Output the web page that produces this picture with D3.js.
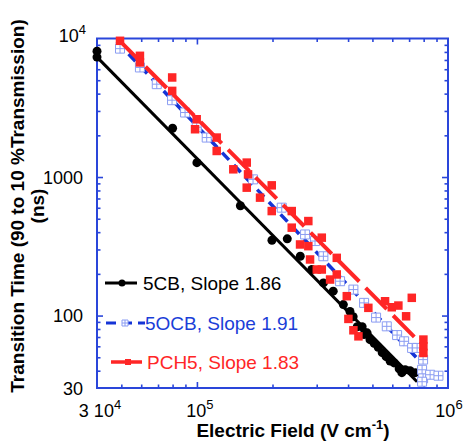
<!DOCTYPE html>
<html>
<head>
<meta charset="utf-8">
<script src="https://cdn.jsdelivr.net/npm/d3@7"></script>
<style>
  body { margin: 0; background: #fff; }
  svg { display: block; }
</style>
</head>
<body>
<div id="chart"></div>
<script>
// axis ranges
const fieldDomain = [4e4, 1e6];
const timeDomain = [30, 1e4];
const fieldMajorTicks = [4e4, 1e5, 1e6];
const fieldTickBase = ["3 10", "10", "10"];
const fieldTickExp = ["4", "5", "6"];
const timeMajorTicks = [30, 100, 1000, 1e4];
const timeTickLabels = ["30", "100", "1000", "10"];

// 5CB
const cbField = [4.0e4, 4.0e4, 8.0e4, 1.0e5, 1.49e5, 1.99e5, 2.29e5, 2.58e5, 2.87e5, 3.19e5,
  3.49e5, 3.83e5, 4.07e5, 4.19e5, 4.35e5, 4.55e5, 4.63e5, 4.76e5, 4.89e5, 5.08e5,
  5.27e5, 5.47e5, 5.67e5, 5.88e5, 6.10e5, 6.39e5, 6.55e5, 6.75e5, 7.06e5, 7.40e5];
const cbTime = [8100, 7340, 2250, 1270, 620, 350, 358, 268, 215, 172,
  150, 120, 107, 98, 83, 83, 73, 75, 67, 63,
  59, 54, 50.5, 47, 45.5, 41.3, 38.7, 40.6, 40, 38.7];
const cbFitField = [4.0e4, 7.53e5];
const cbFitTime = [7340, 33.3];

// 5OCB
const ocbField = [4.94e4, 5.93e4, 6.92e4, 7.96e4, 8.97e4, 9.98e4, 1.094e5, 1.673e5, 2.177e5, 2.696e5,
  2.954e5, 3.189e5, 3.717e5, 4.20e5, 4.632e5, 5.171e5, 5.704e5, 6.27e5, 6.686e5, 7.195e5,
  7.533e5, 7.958e5, 7.885e5, 7.958e5, 8.488e5, 9.162e5, 7.885e5];
const ocbTime = [8450, 6180, 4680, 3586, 2922, 2288, 1927, 962, 601, 385,
  345, 268, 177, 154, 123.5, 96.7, 83.6, 72.3, 65.2, 58.4,
  58.4, 48.1, 40.6, 35.2, 37.4, 36.8, 33.3];
const ocbFitField = [4.8e4, 7.75e5];
const ocbFitTime = [9500, 46.5];

// PCH5
const pchField = [4.94e4, 5.93e4, 5.93e4, 7.97e4, 7.97e4, 9.98e4, 9.83e4, 1.199e5, 1.199e5, 1.396e5,
  1.579e5, 1.598e5, 1.579e5, 1.784e5, 1.986e5, 1.986e5, 2.386e5, 2.386e5, 2.575e5, 2.778e5,
  2.778e5, 2.822e5, 3.143e5, 3.143e5, 3.002e5, 3.391e5, 3.606e5, 3.606e5, 3.953e5, 4.012e5,
  4.20e5, 4.398e5, 4.817e5, 5.615e5, 5.972e5, 6.344e5, 6.81e5, 7.174e5, 7.98e5, 7.98e5, 7.98e5];
const pchTime = [9625, 7499, 6717, 5232, 4186, 2614, 2213, 1927, 1542, 1137,
  1271, 1046, 838, 710, 871, 568, 568, 431, 326, 481,
  317, 254, 365, 215, 215, 182, 198, 261, 138, 94.6,
  78.3, 70.8, 113.7, 126.9, 114.8, 118.1, 98.8, 134.3, 67.1, 60.0, 53.7];
const pchFitField = [4.85e4, 7.53e5];
const pchFitTime = [9900, 67.1];

const legendLabels = ["5CB, Slope 1.86", "5OCB, Slope 1.91", "PCH5, Slope 1.83"];

const width = 463;
const height = 443;
const plot = { left: 97, right: 448, top: 38.5, bottom: 388 };
const axisColor = "#2a46da";
const font = "'Liberation Sans', Arial, sans-serif";
const black = "#000";
const blueLine = "#1534d6";
const blueMark = "#8a9cf2";
const red = "#ff2626";

const svg = d3.select("#chart")
  .append("svg")
  .attr("width", width)
  .attr("height", height);

const x = d3.scaleLog().domain(fieldDomain).range([plot.left, plot.right]);
const y = d3.scaleLog().domain(timeDomain).range([plot.bottom, plot.top]);

const zip = (a, b) => a.map((v, i) => [v, b[i]]);
const line = d3.line().x(d => x(d[0])).y(d => y(d[1]));

// axes: minor + major ticks on all four sides, pointing inward
const xMinor = x.ticks().filter(v => !fieldMajorTicks.includes(v));
const yMinor = y.ticks().filter(v => !timeMajorTicks.includes(v));
const axes = svg.append("g");
const addAxis = (gen, tx, ty) => {
  const g = axes.append("g")
    .attr("transform", `translate(${tx},${ty})`)
    .call(gen);
  g.select(".domain").remove();
  g.selectAll("line")
    .attr("stroke", axisColor)
    .attr("stroke-width", 1.6);
};
addAxis(d3.axisBottom(x).tickValues(xMinor).tickSize(-3.5).tickFormat(""), 0, plot.bottom);
addAxis(d3.axisBottom(x).tickValues([1e5]).tickSize(-6).tickFormat(""), 0, plot.bottom);
addAxis(d3.axisTop(x).tickValues(xMinor).tickSize(-3.5).tickFormat(""), 0, plot.top);
addAxis(d3.axisTop(x).tickValues([1e5]).tickSize(-6).tickFormat(""), 0, plot.top);
addAxis(d3.axisLeft(y).tickValues(yMinor).tickSize(-3.5).tickFormat(""), plot.left, 0);
addAxis(d3.axisLeft(y).tickValues([100, 1000]).tickSize(-6).tickFormat(""), plot.left, 0);
addAxis(d3.axisRight(y).tickValues(yMinor).tickSize(-3.5).tickFormat(""), plot.right, 0);
addAxis(d3.axisRight(y).tickValues([100, 1000]).tickSize(-6).tickFormat(""), plot.right, 0);

axes.append("rect")
  .attr("x", plot.left)
  .attr("y", plot.top)
  .attr("width", plot.right - plot.left)
  .attr("height", plot.bottom - plot.top)
  .attr("fill", "none")
  .attr("stroke", axisColor)
  .attr("stroke-width", 2);

// tick labels
const xLabels = svg.append("g")
  .attr("font-family", font)
  .attr("font-size", 18)
  .attr("fill", "#000");
fieldMajorTicks.forEach((v, i) => {
  const t = xLabels.append("text")
    .attr("x", x(v) + (i === 2 ? 1 : 3))
    .attr("y", 416.5)
    .attr("text-anchor", "middle");
  t.append("tspan").text(fieldTickBase[i]);
  t.append("tspan")
    .attr("font-size", 13)
    .attr("dy", -8)
    .text(fieldTickExp[i]);
});

const yLabels = svg.append("g")
  .attr("font-family", font)
  .attr("font-size", 18)
  .attr("fill", "#000")
  .attr("text-anchor", "end");
timeMajorTicks.forEach((v, i) => {
  const t = yLabels.append("text")
    .attr("x", i === 3 ? 86 : 83)
    .attr("y", y(v) + (i === 3 ? 3.5 : 6.5));
  t.append("tspan").text(timeTickLabels[i]);
  if (i === 3) {
    t.append("tspan")
      .attr("font-size", 13)
      .attr("dy", -8)
      .text("4");
  }
});

// axis titles
const xTitle = svg.append("text")
  .attr("x", 293)
  .attr("y", 437)
  .attr("text-anchor", "middle")
  .attr("font-family", font)
  .attr("font-size", 19)
  .attr("font-weight", "bold");
xTitle.append("tspan").text("Electric Field (V cm");
xTitle.append("tspan").attr("font-size", 13).attr("dy", -8).text("-1");
xTitle.append("tspan").attr("dy", 8).text(")");

const yTitle = svg.append("g")
  .attr("transform", "translate(0,206) rotate(-90)")
  .attr("font-family", font)
  .attr("font-size", 19)
  .attr("font-weight", "bold")
  .attr("text-anchor", "middle");
yTitle.append("text").attr("x", 0).attr("y", 24)
  .text("Transition Time (90 to 10 %Transmission)");
yTitle.append("text").attr("x", 0).attr("y", 44).text("(ns)");

// series
const data = svg.append("g");
const squarePath = (s) => `M${-s / 2},${-s / 2}h${s}v${s}h${-s}Z`;

// 5CB
data.append("path")
  .attr("d", line(zip(cbFitField, cbFitTime)))
  .attr("fill", "none")
  .attr("stroke", black)
  .attr("stroke-width", 3);
data.append("g")
  .selectAll("circle")
  .data(zip(cbField, cbTime))
  .join("circle")
  .attr("cx", d => x(d[0]))
  .attr("cy", d => y(d[1]))
  .attr("r", 4.5)
  .attr("fill", black);

// 5OCB
data.append("path")
  .attr("d", line(zip(ocbFitField, ocbFitTime)))
  .attr("fill", "none")
  .attr("stroke", blueLine)
  .attr("stroke-width", 3.5)
  .attr("stroke-dasharray", "10,7");
const gridSquare = (sel, s) => {
  sel.append("path")
    .attr("d", squarePath(s))
    .attr("fill", "#fff")
    .attr("stroke", blueMark)
    .attr("stroke-width", 1);
  sel.append("path")
    .attr("d", `M${-s / 2},0h${s}M0,${-s / 2}v${s}`)
    .attr("stroke", blueMark)
    .attr("stroke-width", 1);
};
data.append("g")
  .selectAll("g")
  .data(zip(ocbField, ocbTime))
  .join("g")
  .attr("transform", d => `translate(${x(d[0])},${y(d[1])})`)
  .call(gridSquare, 9);

// PCH5
data.append("path")
  .attr("d", line(zip(pchFitField, pchFitTime)))
  .attr("fill", "none")
  .attr("stroke", red)
  .attr("stroke-width", 4)
  .attr("stroke-dasharray", "30,9");
data.append("g")
  .selectAll("path")
  .data(zip(pchField, pchTime))
  .join("path")
  .attr("transform", d => `translate(${x(d[0])},${y(d[1])})`)
  .attr("d", squarePath(8.5))
  .attr("fill", red);

// legend
const legend = svg.append("g")
  .attr("font-family", font)
  .attr("font-size", 19);
const legendY = [283, 323, 362];

legend.append("line")
  .attr("x1", 105).attr("x2", 137)
  .attr("y1", legendY[0]).attr("y2", legendY[0])
  .attr("stroke", black).attr("stroke-width", 3);
legend.append("circle")
  .attr("cx", 122).attr("cy", legendY[0]).attr("r", 3.5).attr("fill", black);

legend.append("line")
  .attr("x1", 106).attr("x2", 145)
  .attr("y1", legendY[1]).attr("y2", legendY[1])
  .attr("stroke", blueLine).attr("stroke-width", 3)
  .attr("stroke-dasharray", "10,6");
legend.append("g")
  .attr("transform", `translate(125,${legendY[1]})`)
  .call(gridSquare, 6);

legend.append("line")
  .attr("x1", 111).attr("x2", 142)
  .attr("y1", legendY[2]).attr("y2", legendY[2])
  .attr("stroke", red).attr("stroke-width", 3.5);
legend.append("path")
  .attr("transform", `translate(128,${legendY[2]})`)
  .attr("d", squarePath(6))
  .attr("fill", red);

const legendColors = [black, "#1a3ed8", red];
const legendX = [143, 145, 147];
legendLabels.forEach((label, i) => {
  legend.append("text")
    .attr("x", legendX[i])
    .attr("y", legendY[i] + 7)
    .attr("fill", legendColors[i])
    .text(label);
});
</script>
</body>
</html>
